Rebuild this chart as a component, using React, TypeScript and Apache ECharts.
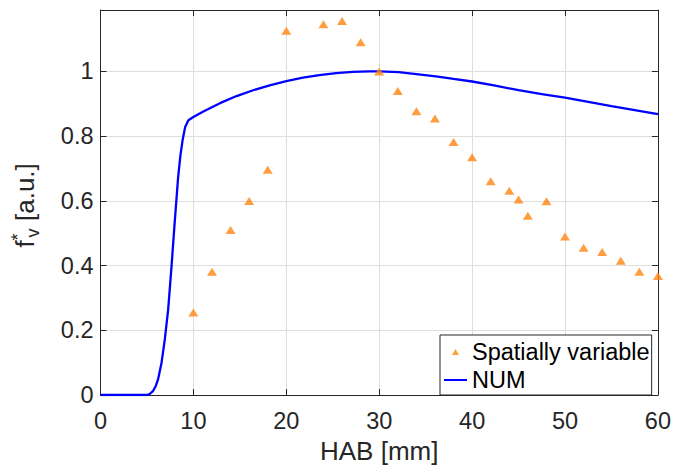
import React, { useEffect, useRef } from "react";
import * as echarts from "echarts";

const FONT = "'Liberation Sans', Arial, Helvetica, sans-serif";

// Measured data: "Spatially variable"
const svX = [10, 12, 14, 16, 18, 20, 24, 26, 28, 30, 32, 34, 36, 38, 40, 42, 44, 45, 46, 48, 50, 52, 54, 56, 58, 60];
const svY = [0.255, 0.381, 0.51, 0.6, 0.696, 1.126, 1.146, 1.156, 1.09, 1.0, 0.94, 0.877, 0.855, 0.782, 0.735, 0.661, 0.631, 0.604, 0.554, 0.599, 0.49, 0.455, 0.442, 0.415, 0.381, 0.368];

// Numerical curve "NUM"
const numX = [0, 5.0, 5.3, 5.67, 5.95, 6.2, 6.57, 6.92, 7.28, 7.64, 8.0, 8.35, 8.6, 8.85, 9.11, 9.46, 10.0, 11.07, 12.86, 14.65, 16.43, 18.21, 20.0, 21.79, 23.57, 25.36, 27.14, 28.9, 30, 32.1, 34, 36.1, 38, 40, 42.5, 45, 47.5, 50, 55, 60];
const numY = [0, 0, 0.003, 0.013, 0.028, 0.049, 0.1, 0.171, 0.263, 0.396, 0.539, 0.671, 0.74, 0.79, 0.828, 0.849, 0.859, 0.876, 0.902, 0.924, 0.942, 0.957, 0.97, 0.981, 0.989, 0.995, 0.999, 1.0, 1.0, 0.998, 0.992, 0.985, 0.977, 0.969, 0.956, 0.942, 0.93, 0.919, 0.893, 0.868];

const xTicks = { min: 0, max: 60, interval: 10 };
const yTicks = { min: 0, max: 1.19, interval: 0.2 };

const AX = "#262626";
const GRID = "#dedede";

export default function App() {
  const ref = useRef<HTMLDivElement>(null);
  useEffect(() => {
    if (!ref.current) return;
    const chart = echarts.init(ref.current, null, { renderer: "svg" });
    const sv = svX.map((x, i) => [x, svY[i]]);
    const num = numX.map((x, i) => [x, numY[i]]);
    const tickCommon = { show: true, inside: true, length: 6, lineStyle: { color: AX, width: 1 } };
    const lineCommon = { show: true, onZero: false, lineStyle: { color: AX, width: 1 } };
    chart.setOption({
      animation: false,
      backgroundColor: "#fff",
      grid: { left: 100.5, right: 13.5, top: 10, bottom: 69.5, containLabel: false },
      xAxis: [
        {
          type: "value",
          position: "bottom",
          ...xTicks,
          axisLine: lineCommon,
          axisTick: tickCommon,
          axisLabel: { fontSize: 23.5, fontFamily: FONT, color: AX, margin: 14 },
          splitLine: { show: true, lineStyle: { color: GRID, width: 1 } },
          name: "HAB [mm]",
          nameLocation: "middle",
          nameGap: 43,
          nameTextStyle: { fontSize: 26, fontFamily: FONT, color: AX },
        },
        {
          type: "value",
          position: "top",
          ...xTicks,
          axisLine: lineCommon,
          axisTick: tickCommon,
          axisLabel: { show: false },
          splitLine: { show: false },
        },
      ],
      yAxis: [
        {
          type: "value",
          position: "left",
          ...yTicks,
          axisLine: lineCommon,
          axisTick: tickCommon,
          axisLabel: {
            fontSize: 23.5,
            fontFamily: FONT,
            color: AX,
            margin: 7,
            showMaxLabel: false,
            formatter: (v: number) => (v > 1.01 ? "" : String(+v.toFixed(1))),
          },
          splitLine: { show: true, lineStyle: { color: GRID, width: 1 } },
        },
        {
          type: "value",
          position: "right",
          ...yTicks,
          axisLine: lineCommon,
          axisTick: tickCommon,
          axisLabel: { show: false },
          splitLine: { show: false },
        },
      ],
      legend: {
        orient: "vertical",
        left: 440,
        top: 335,
        padding: [3, 2, 1, 4],
        itemGap: 0,
        itemWidth: 23,
        itemHeight: 6,
        borderColor: AX,
        borderWidth: 1,
        backgroundColor: "#fff",
        selectedMode: false,
        textStyle: { fontSize: 23.5, fontFamily: FONT, color: "#000", lineHeight: 28 },
        data: [
          { name: "Spatially variable", icon: "path://M5 0 L10 8.66 L0 8.66 Z" },
          { name: "NUM", icon: "path://M0 0 L23 0 L23 2 L0 2 Z" },
        ],
      },
      graphic: [
        {
          type: "group",
          x: 33.5,
          y: 247.5,
          rotation: Math.PI / 2,
          children: [
            { type: "text", x: 0, y: -9, style: { text: "f", fontSize: 26, fontFamily: FONT, fill: AX, align: "left", verticalAlign: "middle" } },
            { type: "text", x: 7, y: -15.5, style: { text: "*", fontSize: 18, fontFamily: FONT, fill: AX, align: "left", verticalAlign: "middle" } },
            { type: "text", x: 10, y: -0.5, style: { text: "v", fontSize: 18, fontFamily: FONT, fill: AX, align: "left", verticalAlign: "middle" } },
            { type: "text", x: 26.5, y: -9, style: { text: "[a.u.]", fontSize: 26, fontFamily: FONT, fill: AX, align: "left", verticalAlign: "middle" } },
          ],
        },
      ],
      series: [
        {
          name: "NUM",
          type: "line",
          data: num,
          showSymbol: false,
          symbol: "none",
          smooth: false,
          lineStyle: { color: "#0000ff", width: 2.3 },
          itemStyle: { color: "#0000ff" },
          z: 2,
        },
        {
          name: "Spatially variable",
          type: "scatter",
          data: sv,
          symbol: "triangle",
          symbolSize: [10, 8],
          itemStyle: { color: "#ff8410" },
          z: 3,
        },
      ],
    });
    return () => chart.dispose();
  }, []);
  return <div ref={ref} style={{ position: "fixed", left: 0, top: 0, width: 674, height: 469 }} />;
}
